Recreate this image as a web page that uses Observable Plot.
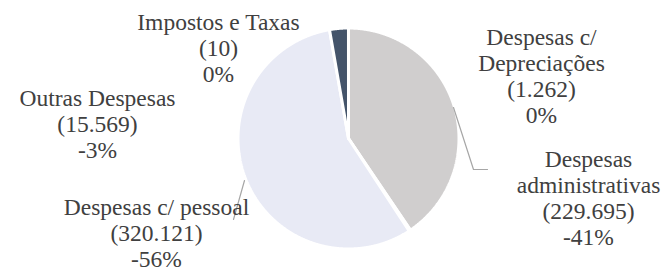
<!DOCTYPE html>
<html>
<head>
<meta charset="utf-8">
<script src="https://cdn.jsdelivr.net/npm/d3@7"></script>
<script src="https://cdn.jsdelivr.net/npm/@observablehq/plot@0.6"></script>
<style>
  html, body { margin: 0; padding: 0; background: #fff; }
  #chart svg { display: block; }
  #chart svg text { font-family: "Liberation Serif", "Times New Roman", serif; }
</style>
</head>
<body>
<div id="chart"></div>
<script>
// ---- data ----
const categories = ["Despesas administrativas", "Despesas c/ Depreciações", "Despesas c/ pessoal", "Outras Despesas", "Impostos e Taxas"];
const labelNames = ["Despesas\nadministrativas", "Despesas c/\nDepreciações", "Despesas c/ pessoal", "Outras Despesas", "Impostos e Taxas"];
const values = [229695, 1262, 320121, 15569, 10];
const valueLabels = ["(229.695)", "(1.262)", "(320.121)", "(15.569)", "(10)"];
const pctLabels = ["-41%", "0%", "-56%", "-3%", "0%"];
const sliceColors = ["#d0cece", "#bfbfbf", "#e8eaf5", "#44546a", "#7f7f7f"];

// ---- layout (pixels) ----
const W = 661, H = 271;
const cx = 348, cy = 138, r = 110.5;
const fontSize = 23.5, lineStep = 26;
const labelPos = [
  {x: 588, y: 165},  // administrativas (first baseline)
  {x: 541, y: 43},   // depreciações
  {x: 156, y: 213},  // pessoal
  {x: 97,  y: 104},  // outras
  {x: 218, y: 28}    // impostos
];
const leaders = [
  {id: "adm", pts: [[453, 107], [473, 169], [487, 169]]},
  {id: "pes", pts: [[244, 180], [233, 219]]}
];

// ---- slice polygons from d3.pie angles ----
const arcs = d3.pie().sort(null).value(d => d)(values);
const slicePts = [];
arcs.forEach((a, i) => {
  const cat = categories[i];
  slicePts.push({cat, x: cx, y: cy});
  const n = Math.max(2, Math.ceil((a.endAngle - a.startAngle) / (Math.PI / 720)));
  for (let k = 0; k <= n; k++) {
    const t = a.startAngle + (a.endAngle - a.startAngle) * k / n;
    slicePts.push({cat, x: cx + r * Math.sin(t), y: cy - r * Math.cos(t)});
  }
  slicePts.push({cat, x: cx, y: cy});
});

const labels = categories.map((c, i) => ({
  text: labelNames[i] + "\n" + valueLabels[i] + "\n" + pctLabels[i],
  x: labelPos[i].x,
  y: labelPos[i].y - 0.71 * fontSize
}));

const leaderPts = leaders.flatMap(l => l.pts.map(([x, y]) => ({id: l.id, x, y})));

const chart = Plot.plot({
  width: W,
  height: H,
  margin: 0,
  x: {domain: [0, W], range: [0, W], axis: null},
  y: {domain: [0, H], range: [0, H], axis: null},
  color: {domain: categories, range: sliceColors},
  style: {background: "#fff"},
  marks: [
    Plot.line(slicePts, {x: "x", y: "y", z: "cat", fill: "cat", stroke: "white", strokeWidth: 3, strokeLinejoin: "miter", curve: "linear"}),
    Plot.line(leaderPts, {x: "x", y: "y", z: "id", stroke: "#a6a6a6", strokeWidth: 1.2}),
    Plot.text(labels, {x: "x", y: "y", text: "text", textAnchor: "middle", lineAnchor: "top", lineHeight: lineStep / fontSize, fontSize: fontSize, fontFamily: "Liberation Serif", fill: "#404040"})
  ]
});
document.getElementById("chart").appendChild(chart);
</script>
</body>
</html>
